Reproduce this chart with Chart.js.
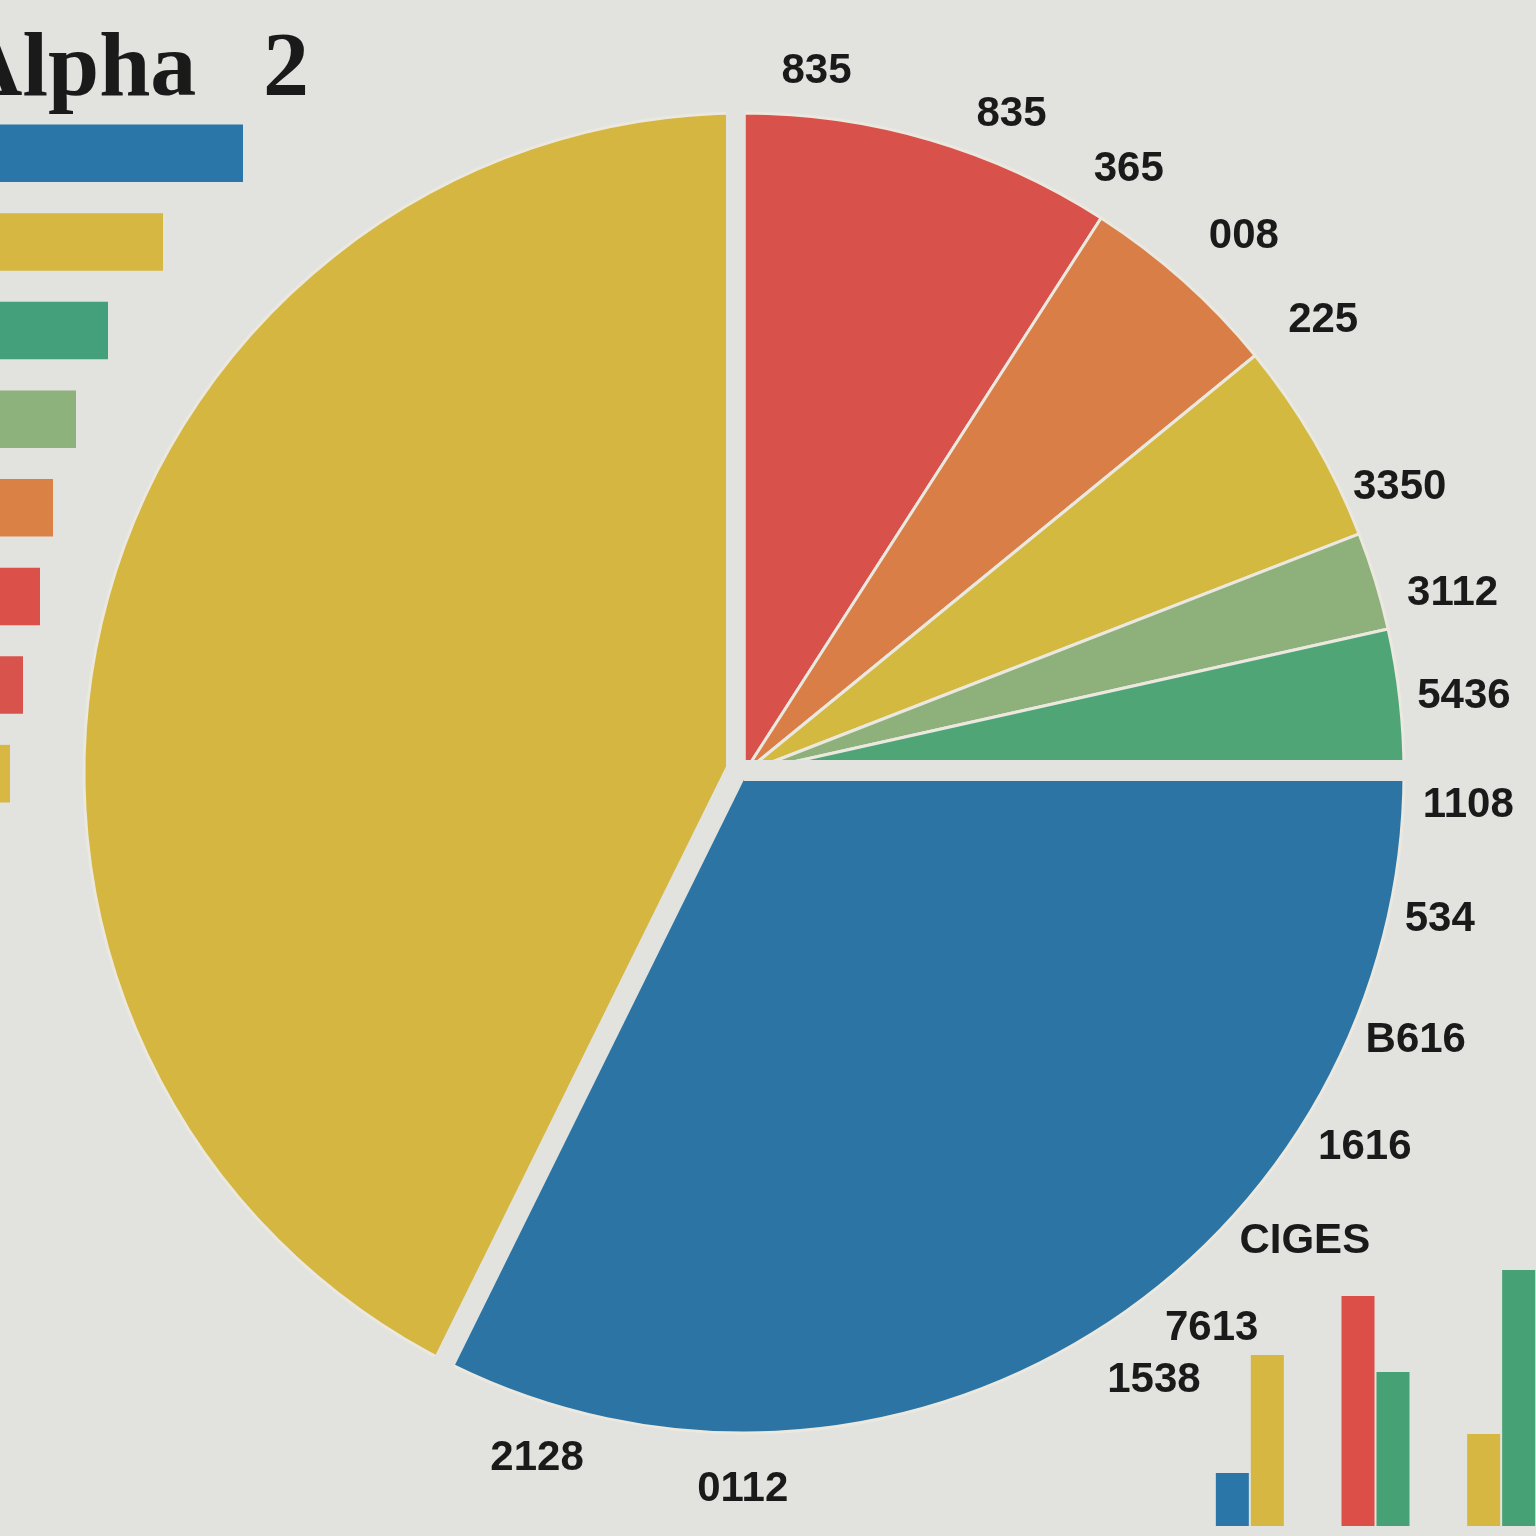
<!DOCTYPE html>
<html>
<head>
<meta charset="utf-8">
<script src="https://cdn.jsdelivr.net/npm/chart.js@4.4.1/dist/chart.umd.min.js"></script>
<style>
  html, body { margin: 0; padding: 0; background: #e2e2df; overflow: hidden; }
  body { width: 1536px; height: 1536px; position: relative; }
  canvas { position: absolute; }
</style>
</head>
<body>
<canvas id="pie" width="1536" height="1536" style="left:0;top:0"></canvas>
<canvas id="sideBars" width="300" height="709" style="left:0;top:109px"></canvas>
<canvas id="cornerBars" width="377" height="276" style="left:1187px;top:1250px"></canvas>
<script>
const paper = "#e2e2df";

// pie slices, clockwise from 12 o'clock (share in %)
const sliceNames = ["Red", "Orange", "Yellow", "Sage", "Green", "Blue", "Gold"];
const sliceValues = [9.1, 5.0, 5.0, 2.4, 3.5, 32.3, 42.7];
const sliceColors = ["#d9514b", "#d97e46", "#d3b940", "#8eb07b", "#4fa576", "#2b74a4", "#d5b641"];

// numbers printed round the pie
const notes = ["835", "835", "365", "008", "225", "3350", "3112", "5436", "1108",
               "534", "B616", "1616", "CIGES", "7613", "1538", "0112", "2128"];
const noteAngles = [5.9, 22.1, 32.5, 43.0, 52.0, 66.5, 75.8, 83.9, 92.6,
                    101.9, 111.7, 121.1, 129.9, 139.9, 146.0, 180.1, 196.8];
const noteGaps = [45, 51, 56, 73, 75, 55, 71, 64, 65, 51, 63, 65, 71, 66, 73, 56, 56];

// bars down the left edge
const sideLabels = ["1", "2", "3", "4", "5", "6", "7", "8"];
const sideValues = [243, 163, 108, 76, 53, 40, 23, 10];
const sideColors = ["#2a76a8", "#d6b742", "#44a07a", "#8db27c", "#da8146", "#db5049", "#d9534d", "#d8b843"];

// small grouped bars, bottom right
const cornerLabels = ["a", "b", "c"];
const cornerFirst = [53, 230, 92];
const cornerSecond = [171, 154, 256];
const cornerFirstColors = ["#2a76a8", "#db4f48", "#d6b742"];
const cornerSecondColors = ["#d6b742", "#46a175", "#46a175"];

// wide cuts between the three parts of the pie
const gaps = [
    { slice: 0, from: -18, to: 1 },
    { slice: 5, from: -13, to: 8 },
    { slice: 6, from: -3, to: 19 }
];

const piePaint = {
    id: "piePaint",
    afterDatasetsDraw(chart) {
        const ctx = chart.ctx;
        const arcs = chart.getDatasetMeta(0).data;
        ctx.save();
        ctx.fillStyle = paper;
        gaps.forEach(g => {
            const arc = arcs[g.slice];
            const phi = arc.startAngle;
            const len = arc.outerRadius + 12;
            const dx = Math.cos(phi), dy = Math.sin(phi);
            const nx = -dy, ny = dx;
            ctx.beginPath();
            ctx.moveTo(arc.x + nx * g.from, arc.y + ny * g.from);
            ctx.lineTo(arc.x + nx * g.to, arc.y + ny * g.to);
            ctx.lineTo(arc.x + nx * g.to + dx * len, arc.y + ny * g.to + dy * len);
            ctx.lineTo(arc.x + nx * g.from + dx * len, arc.y + ny * g.from + dy * len);
            ctx.closePath();
            ctx.fill();
        });

        const c = arcs[0];
        ctx.fillStyle = "#1a1a1a";
        ctx.font = 'bold 42px "Liberation Sans"';
        ctx.textAlign = "center";
        ctx.textBaseline = "middle";
        notes.forEach((t, i) => {
            const a = (noteAngles[i] - 90) * Math.PI / 180;
            const r = c.outerRadius + noteGaps[i];
            ctx.fillText(t, c.x + Math.cos(a) * r, c.y + Math.sin(a) * r);
        });

        ctx.font = 'bold 92px "Liberation Serif"';
        ctx.textAlign = "left";
        ctx.textBaseline = "alphabetic";
        ctx.fillText("Alpha", -44, 95);
        ctx.fillText("2", 263, 95);
        ctx.restore();
    }
};

new Chart(document.getElementById("pie"), {
    type: "pie",
    data: {
        labels: sliceNames,
        datasets: [{
            data: sliceValues,
            backgroundColor: sliceColors,
            borderColor: "#ebe8df",
            borderWidth: 3,
            radius: 660
        }]
    },
    options: {
        responsive: false,
        animation: false,
        layout: { padding: { left: 82, right: 130, top: 111, bottom: 101 } },
        plugins: { legend: { display: false }, tooltip: { enabled: false } }
    },
    plugins: [piePaint]
});

new Chart(document.getElementById("sideBars"), {
    type: "bar",
    data: {
        labels: sideLabels,
        datasets: [{
            data: sideValues,
            backgroundColor: sideColors,
            categoryPercentage: 1,
            barPercentage: 0.65
        }]
    },
    options: {
        indexAxis: "y",
        responsive: false,
        animation: false,
        plugins: { legend: { display: false }, tooltip: { enabled: false } },
        scales: {
            x: { display: false, min: 0, max: 300 },
            y: { display: false }
        }
    }
});

new Chart(document.getElementById("cornerBars"), {
    type: "bar",
    data: {
        labels: cornerLabels,
        datasets: [
            { data: cornerFirst, backgroundColor: cornerFirstColors },
            { data: cornerSecond, backgroundColor: cornerSecondColors }
        ]
    },
    options: {
        responsive: false,
        animation: false,
        datasets: { bar: { categoryPercentage: 0.557, barPercentage: 0.943 } },
        plugins: { legend: { display: false }, tooltip: { enabled: false } },
        scales: {
            x: { display: false },
            y: { display: false, min: 0, max: 276 }
        }
    }
});
</script>
</body>
</html>
